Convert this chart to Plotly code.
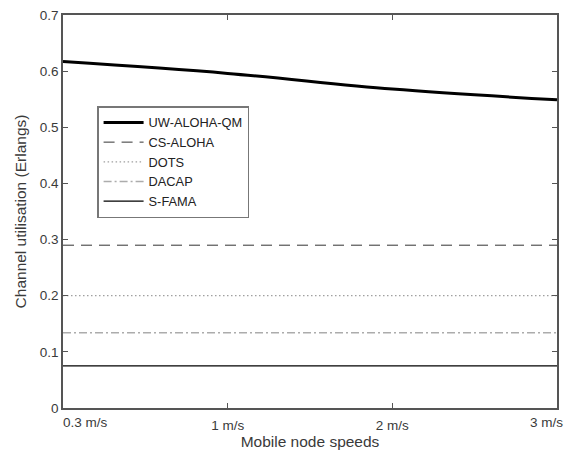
import plotly.graph_objects as go

categories = ["0.3 m/s", "1 m/s", "2 m/s", "3 m/s"]
uw_aloha_qm = [0.617, 0.596, 0.568, 0.549]
cs_aloha = [0.29, 0.29, 0.29, 0.29]
dots = [0.2, 0.2, 0.2, 0.2]
dacap = [0.134, 0.134, 0.134, 0.134]
s_fama = [0.075, 0.075, 0.075, 0.075]
y_ticks = [0, 0.1, 0.2, 0.3, 0.4, 0.5, 0.6, 0.7]
y_ticktext = ["0", "0.1", "0.2", "0.3", "0.4", "0.5", "0.6", "0.7"]

x = list(range(len(categories)))

fig = go.Figure()
fig.add_trace(go.Scatter(x=x, y=uw_aloha_qm, mode="lines", name="UW-ALOHA-QM",
                         line=dict(color="black", width=3, shape="spline")))
fig.add_trace(go.Scatter(x=x, y=cs_aloha, mode="lines", name="CS-ALOHA",
                         line=dict(color="#333333", width=1, dash="11px,7px")))
fig.add_trace(go.Scatter(x=x, y=dots, mode="lines", name="DOTS",
                         line=dict(color="#a0a0a0", width=1.3, dash="1.5px,2.5px")))
fig.add_trace(go.Scatter(x=x, y=dacap, mode="lines", name="DACAP",
                         line=dict(color="#acacac", width=1.5, dash="8px,3px,2px,3px")))
fig.add_trace(go.Scatter(x=x, y=s_fama, mode="lines", name="S-FAMA",
                         line=dict(color="black", width=1.2)))
# empty helper traces so the edge-label axes are registered
fig.add_trace(go.Scatter(x=[], y=[], xaxis="x2", showlegend=False, hoverinfo="skip"))
fig.add_trace(go.Scatter(x=[], y=[], xaxis="x3", showlegend=False, hoverinfo="skip"))

tickfont = dict(size=13.5, color="#3a3a3a")
axis_common = dict(showline=True, linecolor="#555555", linewidth=1.5, mirror="ticks",
                   ticks="inside", ticklen=5, tickcolor="#555555", showgrid=False,
                   zeroline=False, automargin=False, tickfont=tickfont)
edge_axis = dict(range=[0, 3], overlaying="x", side="bottom", anchor="y",
                 showline=False, showgrid=False, zeroline=False, ticks="",
                 automargin=False, tickfont=tickfont, ticklabelstandoff=4,
                 ticklabeloverflow="allow")

fig.update_layout(
    width=571, height=454,
    margin=dict(l=63, r=14, t=15, b=46),
    paper_bgcolor="white", plot_bgcolor="white",
    font=dict(family="Liberation Sans, Arial, sans-serif", color="#3a3a3a"),
    xaxis=dict(range=[0, 3], tickvals=x[1:3], ticktext=categories[1:3], ticklabelstandoff=4,
               title=dict(text="Mobile node speeds", font=dict(size=15.5), standoff=4),
               **axis_common),
    xaxis2=dict(tickvals=[x[0]], ticktext=[categories[0]],
                ticklabelposition="outside right", ticklabelshift=0, **edge_axis),
    xaxis3=dict(tickvals=[x[3]], ticktext=[categories[3]],
                ticklabelposition="outside left", ticklabelshift=6, **edge_axis),
    yaxis=dict(range=[0, 0.7], tickvals=y_ticks, ticktext=y_ticktext,
               title=dict(text="Channel utilisation (Erlangs)", font=dict(size=15.5), standoff=9),
               **axis_common),
    legend=dict(x=0.069, y=0.768, xanchor="left", yanchor="top",
                bordercolor="#777777", borderwidth=1.5, bgcolor="white",
                font=dict(size=12.8, color="#222222"), tracegroupgap=0,
                itemwidth=40, entrywidth=118, entrywidthmode="pixels"),
    showlegend=True,
)

fig.write_html("out.html", config={"displayModeBar": False},
               post_script="document.body.style.margin='0';document.body.style.overflow='hidden';")
